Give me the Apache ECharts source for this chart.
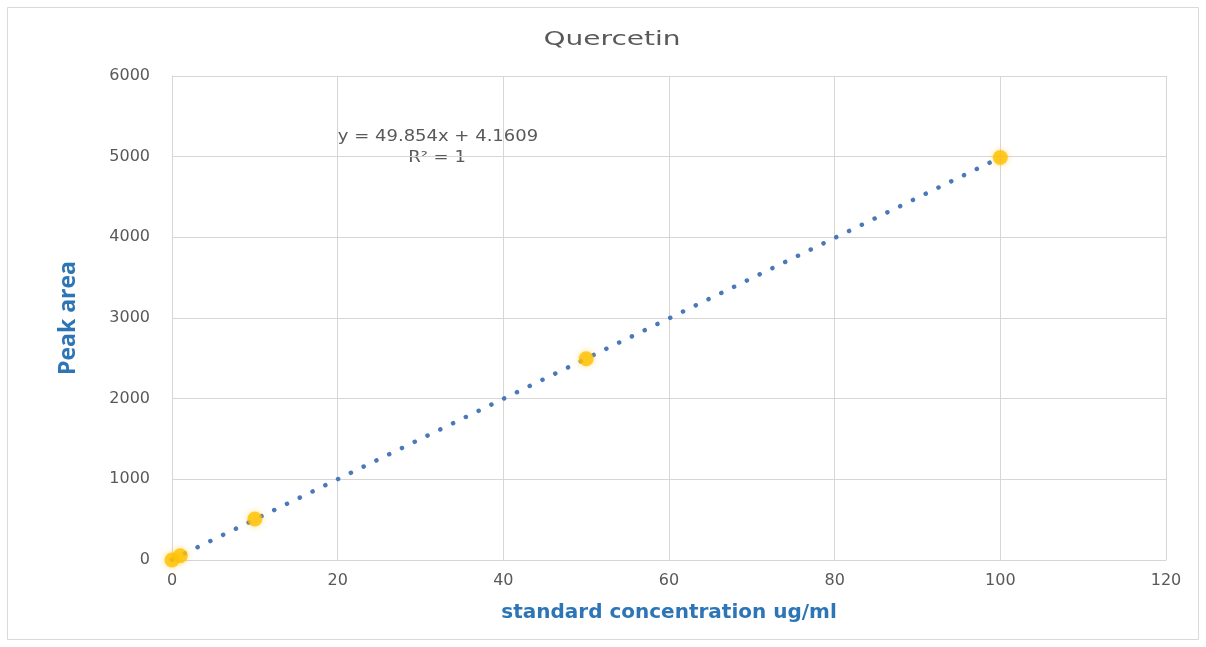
<!DOCTYPE html>
<html>
<head>
<meta charset="utf-8">
<style>
  html, body { margin: 0; padding: 0; background: #ffffff; }
  #chart { width: 1206px; height: 647px; }
</style>
<script src="https://cdn.jsdelivr.net/npm/echarts@6/dist/echarts.min.js"></script>
</head>
<body>
<div id="chart"></div>
<script>
// Calibration standards: concentration (ug/ml) vs. measured peak area
const concentrations = [0, 1, 10, 50, 100];
const peakAreas = [0, 52, 508, 2494, 4990];

// Linear fit as reported in the equation label
const slope = 49.854;
const intercept = 4.1609;
const rSquaredText = 'R² = 1';
const trendRange = [0, 100];

const xTicks = [0, 20, 40, 60, 80, 100, 120];
const yTicks = [0, 1000, 2000, 3000, 4000, 5000, 6000];

const points = concentrations.map((c, i) => [c, peakAreas[i]]);
const trendPoints = trendRange.map(x => [x, slope * x + intercept]);

const chart = echarts.init(document.getElementById('chart'));
const wideFont = '"DejaVu Sans", "Open Sans", sans-serif';
const gray = '#595959';
const axisBlue = '#2e75b6';
const gridGray = '#d6d6d6';

chart.setOption({
  animation: false,
  backgroundColor: '#ffffff',
  grid: { left: 172, right: 40, top: 76, bottom: 87, containLabel: false },
  xAxis: {
    type: 'value',
    min: xTicks[0],
    max: xTicks[xTicks.length - 1],
    interval: xTicks[1] - xTicks[0],
    name: 'standard concentration ug/ml',
    nameLocation: 'middle',
    nameGap: 43,
    nameTextStyle: { color: axisBlue, fontSize: 20, fontWeight: 'bold', fontFamily: wideFont },
    axisLine: { show: true, lineStyle: { color: gridGray, width: 1 } },
    axisTick: { show: false },
    axisLabel: { color: gray, fontSize: 16, margin: 13, fontFamily: wideFont },
    splitLine: { show: true, lineStyle: { color: gridGray, width: 1 } }
  },
  yAxis: {
    type: 'value',
    min: yTicks[0],
    max: yTicks[yTicks.length - 1],
    interval: yTicks[1] - yTicks[0],
    name: 'Peak area',
    nameLocation: 'middle',
    nameGap: 92,
    nameTextStyle: { color: axisBlue, fontSize: 23, fontWeight: 'bold', fontFamily: '"Open Sans", sans-serif' },
    axisLine: { show: true, lineStyle: { color: gridGray, width: 1 } },
    axisTick: { show: false },
    axisLabel: {
      color: gray, fontSize: 16, margin: 22, fontFamily: wideFont,
      formatter: v => String(v)
    },
    splitLine: { show: true, lineStyle: { color: gridGray, width: 1 } }
  },
  graphic: [
    {
      type: 'rect',
      shape: { x: 7.5, y: 7.5, width: 1191, height: 632 },
      style: { fill: 'none', stroke: '#d9d9d9', lineWidth: 1 },
      silent: true
    },
    {
      // chart title
      type: 'text',
      x: 612,
      y: 40,
      scaleX: 1.4,
      style: {
        text: 'Quercetin',
        fill: gray,
        font: '20px ' + wideFont,
        textAlign: 'center',
        textVerticalAlign: 'middle'
      }
    },
    {
      type: 'text',
      x: 438,
      y: 137,
      scaleX: 1.2,
      style: {
        text: 'y = ' + slope + 'x + ' + intercept,
        fill: gray,
        font: '15px ' + wideFont,
        textAlign: 'center',
        textVerticalAlign: 'middle'
      }
    },
    {
      type: 'text',
      x: 437,
      y: 158,
      scaleX: 1.2,
      style: {
        text: rSquaredText,
        fill: gray,
        font: '15px ' + wideFont,
        textAlign: 'center',
        textVerticalAlign: 'middle'
      }
    }
  ],
  series: [
    {
      name: 'Linear fit',
      type: 'line',
      data: trendPoints,
      showSymbol: false,
      symbol: 'none',
      lineStyle: { color: '#4a78b8', width: 4.5, type: [0.1, 14.1], cap: 'round' },
      z: 2
    },
    {
      name: 'Standards',
      type: 'scatter',
      data: points,
      symbol: 'circle',
      symbolSize: 15,
      itemStyle: { color: '#ffc000', shadowBlur: 6, shadowColor: 'rgba(255,192,0,0.6)' },
      z: 3
    }
  ]
});
</script>
</body>
</html>
